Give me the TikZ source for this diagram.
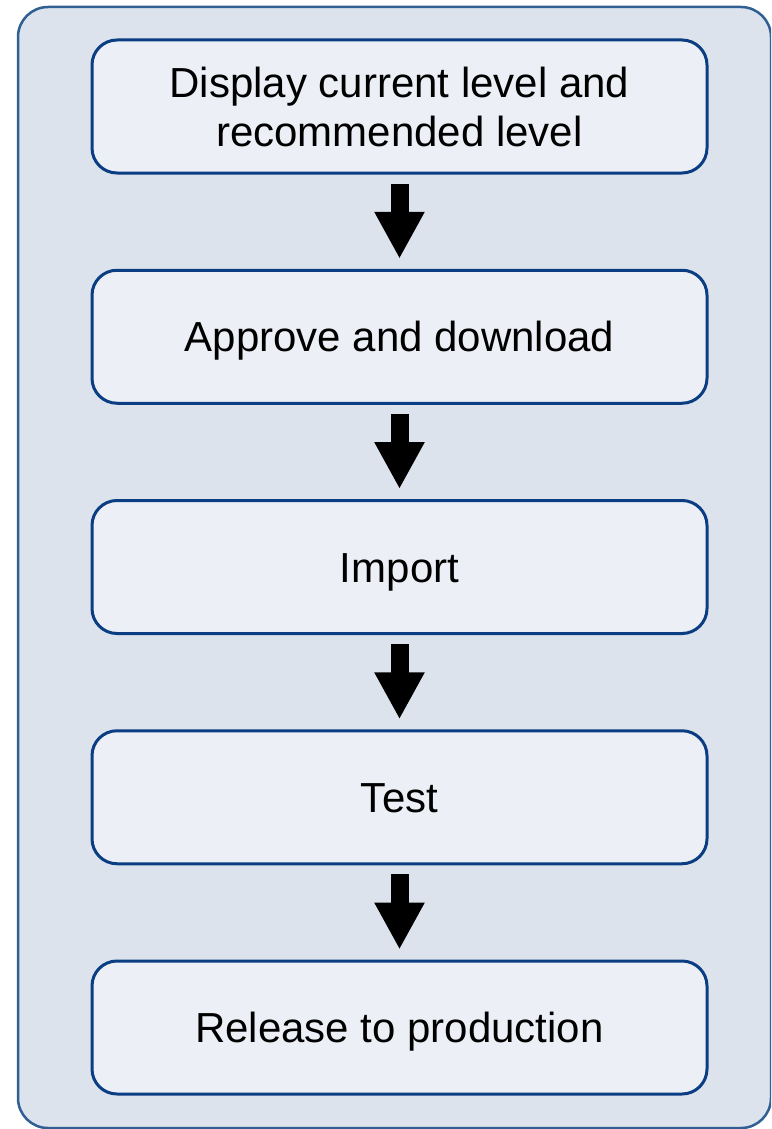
\documentclass[tikz,border=0pt]{standalone}
\usepackage{fontspec}
\setmainfont{Liberation Sans}
\usetikzlibrary{positioning,arrows.meta}
\definecolor{panelfill}{HTML}{DCE3ED}
\definecolor{paneledge}{HTML}{2F5F93}
\definecolor{stepfill}{HTML}{ECEFF5}
\definecolor{stepedge}{HTML}{0B3D83}
\begin{document}
\begin{tikzpicture}[x=1pt, y=-1pt, node distance=94.25pt,
	stepbox/.style={draw=stepedge, fill=stepfill, line width=3pt, rounded corners=25pt,
		minimum width=615pt, minimum height=133pt, align=center,
		font=\fontsize{42}{49}\selectfont},
	oneline/.style={stepbox, text height=30pt, text depth=0pt},
	flowarrow/.style={line width=18pt, -{Triangle[width=47pt,length=47pt]},
		shorten <=9pt, shorten >=10pt}]
	\useasboundingbox (0,0) rectangle (771,1129);
	\clip (0,0) rectangle (771,1129);
	
	\draw[draw=paneledge, fill=panelfill, line width=2.5pt, rounded corners=30pt]
		(18,7) rectangle (771,1128);					% background panel
	
	\node[stepbox] (display) at (399.5,106.5) {Display current level and\\recommended level};
	\node[oneline, below=of display] (approve) {Approve and download};
	\node[oneline, below=of approve] (import) {Import};
	\node[oneline, below=of import] (test) {Test};
	\node[oneline, below=of test] (release) {Release to production};
	
	\draw[flowarrow] (display) -- (approve);
	\draw[flowarrow] (approve) -- (import);
	\draw[flowarrow] (import) -- (test);
	\draw[flowarrow] (test) -- (release);
\end{tikzpicture}
\end{document}
